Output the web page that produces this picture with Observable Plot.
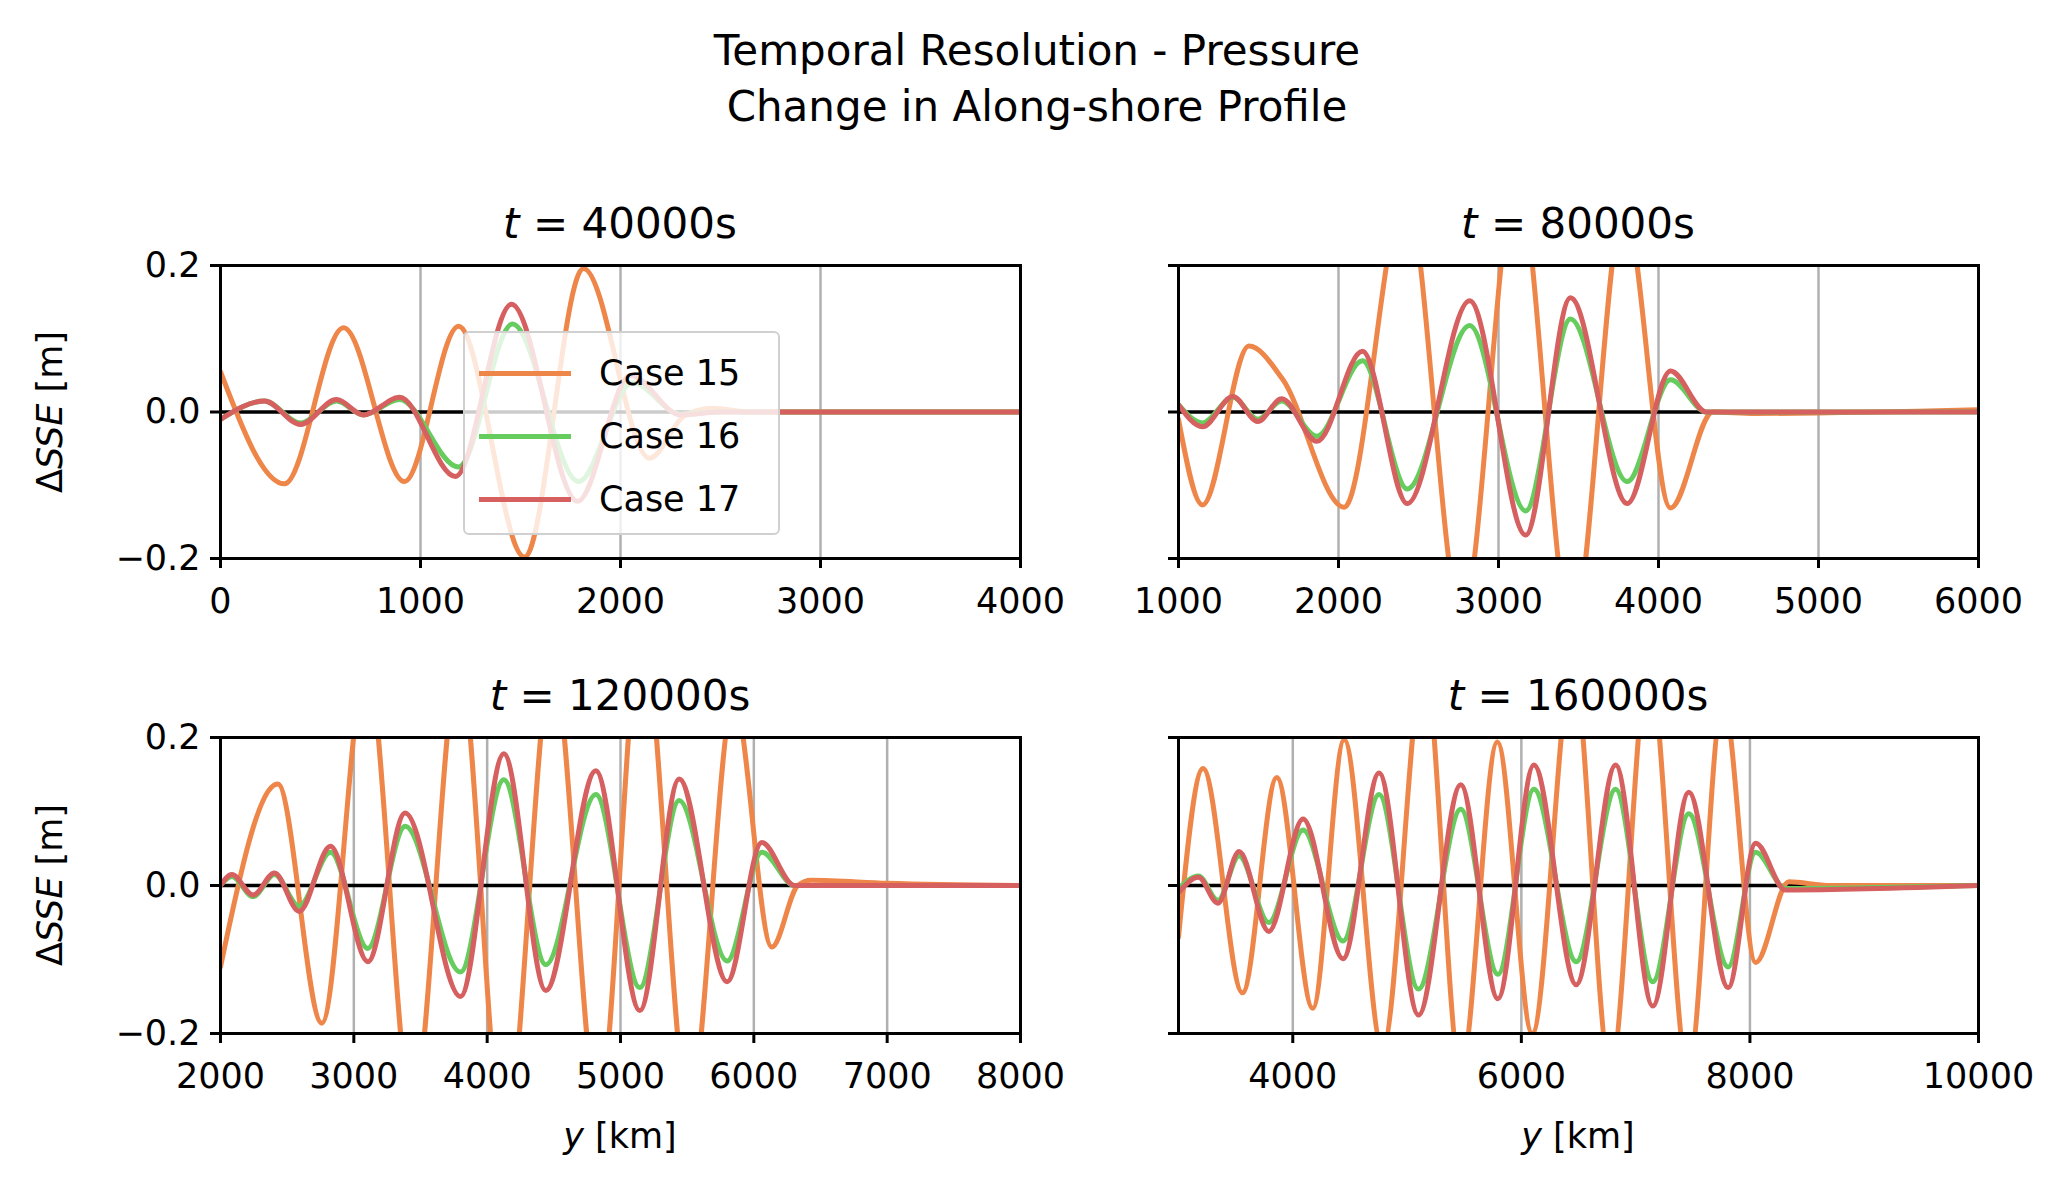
<!DOCTYPE html>
<html>
<head>
<meta charset="utf-8">
<script src="https://cdn.jsdelivr.net/npm/d3@7"></script>
<script src="https://cdn.jsdelivr.net/npm/@observablehq/plot@0.6"></script>
<style>
  body { margin: 0; background: white; font-family: "DejaVu Sans", sans-serif; }
  #fig { position: relative; width: 2069px; height: 1191px; }
  .abs { position: absolute; }
  .txt { position: absolute; white-space: nowrap; color: black; transform: translate(-50%, -50%); }
</style>
</head>
<body>
<div id="fig"></div>
<script>
// Along-shore change in SSE, key extrema: [y km, dSSE m]
const CASES = ["Case 15", "Case 16", "Case 17"];
const COLORS = ["#ee8649", "#66cc5e", "#d65f5f"];

const c15_t40 = [[0,0.055],[320,-0.098],[615,0.115],[920,-0.095],[1190,0.117],[1520,-0.198],[1815,0.196],[2145,-0.063],[2320,-0.005],[2460,0.005],[2650,0],[4000,0]];
const c16_t40 = [[0,-0.01],[220,0.015],[400,-0.015],[580,0.015],[715,-0.004],[895,0.017],[1190,-0.075],[1460,0.12],[1790,-0.095],[2060,0.04],[2300,-0.003],[2500,0],[4000,0]];
const c17_t40 = [[0,-0.01],[220,0.015],[400,-0.017],[580,0.017],[715,-0.004],[895,0.02],[1175,-0.088],[1455,0.147],[1785,-0.122],[2050,0.05],[2300,-0.004],[2500,0],[4000,0]];

const c15_t80 = [[1000,-0.01],[1150,-0.127],[1440,0.09],[1650,0.045],[2035,-0.13],[2420,0.3],[2770,-0.28],[3115,0.32],[3460,-0.3],[3785,0.28],[4075,-0.131],[4340,0],[4600,-0.002],[6000,0.003]];
const c16_t80 = [[1000,0.01],[1150,-0.015],[1340,0.02],[1495,-0.01],[1645,0.015],[1865,-0.033],[2150,0.07],[2430,-0.105],[2820,0.118],[3170,-0.135],[3450,0.127],[3805,-0.095],[4075,0.044],[4300,0],[6000,0]];
const c17_t80 = [[1000,0.01],[1150,-0.02],[1340,0.021],[1495,-0.013],[1645,0.018],[1865,-0.04],[2150,0.083],[2430,-0.125],[2820,0.152],[3170,-0.168],[3450,0.156],[3805,-0.125],[4075,0.056],[4300,0],[6000,0]];

const c15_t120 = [[2000,-0.11],[2430,0.137],[2760,-0.186],[3095,0.3],[3440,-0.3],[3790,0.3],[4130,-0.35],[4490,0.3],[4835,-0.3],[5160,0.35],[5515,-0.3],[5850,0.25],[6135,-0.083],[6330,0],[6430,0.007],[7000,0.003],[8000,0]];
const c16_t120 = [[2000,0],[2085,0.012],[2245,-0.015],[2405,0.015],[2590,-0.028],[2825,0.045],[3105,-0.085],[3385,0.08],[3800,-0.117],[4125,0.143],[4440,-0.107],[4815,0.123],[5145,-0.138],[5440,0.115],[5800,-0.102],[6060,0.045],[6305,0],[8000,0]];
const c17_t120 = [[2000,0],[2085,0.015],[2245,-0.013],[2405,0.017],[2590,-0.035],[2825,0.053],[3105,-0.103],[3385,0.098],[3800,-0.15],[4125,0.178],[4440,-0.142],[4815,0.155],[5145,-0.169],[5440,0.144],[5800,-0.13],[6060,0.058],[6305,0],[8000,0]];

const c15_t160 = [[3000,-0.07],[3215,0.158],[3560,-0.145],[3860,0.146],[4175,-0.166],[4450,0.197],[4785,-0.22],[5150,0.3],[5470,-0.25],[5790,0.194],[6095,-0.2],[6450,0.3],[6780,-0.25],[7115,0.3],[7460,-0.25],[7765,0.25],[8050,-0.104],[8340,0.005],[8700,0],[10000,0]];
const c16_t160 = [[3000,-0.005],[3175,0.013],[3345,-0.02],[3530,0.04],[3790,-0.05],[4090,0.075],[4440,-0.075],[4755,0.123],[5100,-0.14],[5470,0.103],[5795,-0.12],[6110,0.13],[6480,-0.103],[6825,0.13],[7150,-0.13],[7465,0.097],[7810,-0.11],[8050,0.045],[8310,-0.004],[10000,0]];
const c17_t160 = [[3000,-0.01],[3175,0.011],[3345,-0.024],[3530,0.046],[3790,-0.062],[4090,0.09],[4440,-0.099],[4755,0.152],[5100,-0.175],[5470,0.136],[5795,-0.153],[6110,0.163],[6480,-0.134],[6825,0.163],[7150,-0.163],[7465,0.126],[7810,-0.138],[8050,0.057],[8310,-0.006],[10000,0]];

const PANELS = [
  { title: "40000", series: [c15_t40, c16_t40, c17_t40], xDomain: [0, 4000], xTicks: [0, 1000, 2000, 3000, 4000] },
  { title: "80000", series: [c15_t80, c16_t80, c17_t80], xDomain: [1000, 6000], xTicks: [1000, 2000, 3000, 4000, 5000, 6000] },
  { title: "120000", series: [c15_t120, c16_t120, c17_t120], xDomain: [2000, 8000], xTicks: [2000, 3000, 4000, 5000, 6000, 7000, 8000] },
  { title: "160000", series: [c15_t160, c16_t160, c17_t160], xDomain: [3000, 10000], xTicks: [4000, 6000, 8000, 10000] },
];
const Y_TICKS = [-0.2, 0, 0.2];

// plot-area boxes in page pixels
const BOXES = [
  { left: 220, top: 265, w: 800, h: 293 },
  { left: 1178, top: 265, w: 800, h: 293 },
  { left: 220, top: 737, w: 800, h: 296 },
  { left: 1178, top: 737, w: 800, h: 296 },
];

const fig = document.getElementById("fig");

function addText(html, x, y, size, rotate) {
  const d = document.createElement("div");
  d.className = "txt";
  d.style.left = x + "px";
  d.style.top = y + "px";
  d.style.fontSize = size + "px";
  if (rotate) d.style.transform = "translate(-50%, -50%) rotate(-90deg)";
  d.innerHTML = html;
  fig.appendChild(d);
}

PANELS.forEach((p, i) => {
  const b = BOXES[i];
  const leftCol = i % 2 === 0;
  const mt = 20, mb = 70, ml = 140, mr = 70;
  const rows = [];
  p.series.forEach((s, k) => s.forEach(([x, y]) => rows.push({ x, y, k })));

  const plot = Plot.plot({
    width: b.w + ml + mr,
    height: b.h + mt + mb,
    marginTop: mt, marginBottom: mb, marginLeft: ml, marginRight: mr,
    style: { fontFamily: "DejaVu Sans", fontSize: "35px", color: "black", background: "transparent", overflow: "visible" },
    x: { domain: p.xDomain },
    y: { domain: [-0.2, 0.2] },
    marks: [
      Plot.gridX(p.xTicks, { stroke: "#b0b0b0", strokeOpacity: 1, strokeWidth: 2.5 }),
      Plot.ruleY([0], { stroke: "black", strokeWidth: 3.5 }),
      ...[0, 1, 2].map((k) =>
        Plot.line(rows.filter((r) => r.k === k), {
          x: "x", y: "y", curve: "monotone-x",
          stroke: COLORS[k], strokeWidth: 5, clip: true,
        })
      ),
      Plot.frame({ stroke: "black", strokeWidth: 3 }),
      Plot.axisX(p.xTicks, { tickSize: 10, tickPadding: 20, strokeWidth: 3, label: null, tickFormat: "d" }),
      Plot.axisY(Y_TICKS, {
        tickSize: 10, tickPadding: 10, strokeWidth: 3, label: null,
        tickFormat: leftCol ? ".1f" : () => "",
      }),
    ],
  });
  plot.classList.add("abs");
  plot.style.left = (b.left - ml) + "px";
  plot.style.top = (b.top - mt) + "px";
  fig.appendChild(plot);

  addText(`<i>t</i> = ${p.title}s`, b.left + b.w / 2, b.top - 42, 42);
  if (leftCol) addText("Δ<i>SSE</i> [m]", 50, b.top + b.h / 2, 35, true);
  if (i >= 2) addText("<i>y</i> [km]", b.left + b.w / 2, 1136, 35);
});

addText("Temporal Resolution - Pressure", 1037, 50, 42);
addText("Change in Along-shore Profile", 1037, 106, 42);

// legend in first panel
const leg = document.createElement("div");
leg.className = "abs";
Object.assign(leg.style, {
  left: "463px", top: "331px", width: "317px", height: "204px",
  background: "rgba(255,255,255,0.8)", border: "2.5px solid #d0d0d0",
  borderRadius: "6px", boxSizing: "border-box",
});
CASES.forEach((c, k) => {
  const row = document.createElement("div");
  row.className = "abs";
  Object.assign(row.style, { left: "14px", top: (20 + k * 63) + "px", display: "flex", alignItems: "center", fontSize: "35px" });
  row.innerHTML = `<span style="display:inline-block;width:92px;height:5px;background:${COLORS[k]};margin-right:28px"></span>${c}`;
  leg.appendChild(row);
});
fig.appendChild(leg);
</script>
</body>
</html>
